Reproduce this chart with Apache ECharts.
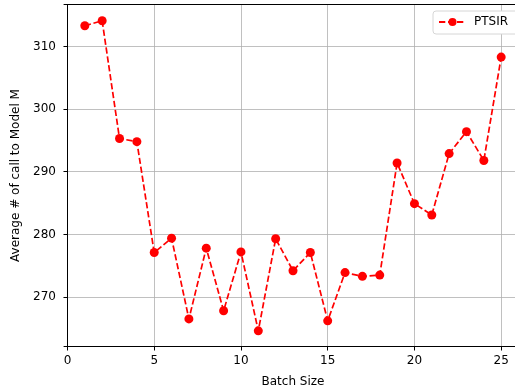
<!DOCTYPE html>
<html><head><meta charset="utf-8">
<script src="https://cdn.jsdelivr.net/npm/echarts@6/dist/echarts.min.js"></script>
<style>html,body{margin:0;padding:0;background:#fff;overflow:hidden}#c{width:540px;height:388px}</style>
</head><body><div id="c"></div>
<script>
const batchSizes = [1,2,3,4,5,6,7,8,9,10,11,12,13,14,15,16,17,18,19,20,21,22,23,24,25];
const ptsirCalls = [313.3,314.1,295.3,294.8,277.1,279.4,266.5,277.8,267.8,277.2,264.6,279.3,274.2,277.1,266.2,273.9,273.3,273.5,291.4,284.9,283.1,292.9,296.4,291.8,308.3];
const xTicks = [0,5,10,15,20,25];
const yTicks = [270,280,290,300,310];
const seriesName = 'PTSIR';

const chart = echarts.init(document.getElementById('c'), null, {renderer:'canvas'});
const font = 'DejaVu Sans';
const gridLine = {show:true, lineStyle:{color:'#b0b0b0', width:0.8}};
const spineOnly = {axisLine:{show:true, lineStyle:{color:'#000', width:1}}, axisTick:{show:false}, axisLabel:{show:false}, splitLine:{show:false}};
chart.setOption({
  animation:false,
  grid:{left:64, top:4.5, width:458, height:342, outerBoundsMode:'none', containLabel:false},
  legend:{
    left:433, top:11, orient:'horizontal',
    backgroundColor:'#fff', borderColor:'#d6d6d6', borderWidth:1, borderRadius:3,
    padding:[5,10,6,5], itemWidth:27, itemHeight:10,
    textStyle:{fontFamily:font, fontSize:12, color:'#000', padding:[0,0,0,3]},
    data:[seriesName]
  },
  xAxis:[{
    type:'value', min:-0.2, max:26.2,
    name:'Batch Size', nameLocation:'middle', nameGap:29,
    nameTextStyle:{fontFamily:font, fontSize:12, color:'#000'},
    axisLine:{lineStyle:{color:'#000', width:1}},
    axisTick:{show:true, length:4, customValues:xTicks, lineStyle:{color:'#000'}},
    axisLabel:{customValues:xTicks, margin:8, fontFamily:font, fontSize:12, color:'#000'},
    splitLine:Object.assign({customValues:xTicks}, gridLine)
  },Object.assign({type:'value', position:'top', min:-0.2, max:26.2}, spineOnly)],
  yAxis:[{
    type:'value', min:262.1, max:316.7,
    name:'Average # of call to Model M', nameLocation:'middle', nameGap:40,
    nameTextStyle:{fontFamily:font, fontSize:12, color:'#000'},
    axisLine:{show:true, lineStyle:{color:'#000', width:1}},
    axisTick:{show:true, length:4, customValues:yTicks, lineStyle:{color:'#000'}},
    axisLabel:{customValues:yTicks, margin:8, fontFamily:font, fontSize:12, color:'#000'},
    splitLine:Object.assign({customValues:yTicks}, gridLine)
  },Object.assign({type:'value', position:'right', min:262.1, max:316.7}, spineOnly)],
  series:[{
    name:seriesName, type:'line',
    data:batchSizes.map((b,i)=>[b, ptsirCalls[i]]),
    symbol:'circle', symbolSize:9,
    itemStyle:{color:'#ff0000'},
    lineStyle:{color:'#ff0000', width:1.7, type:[6.3,2.7]}
  }]
});
</script></body></html>
